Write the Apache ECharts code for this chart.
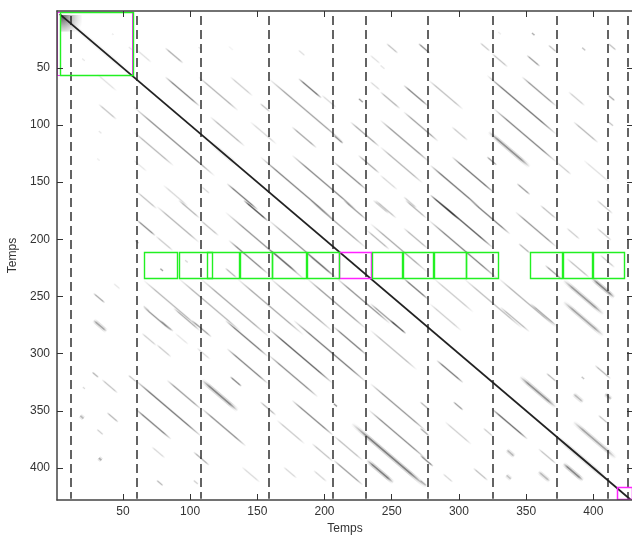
<!DOCTYPE html>
<html>
<head>
<meta charset="utf-8">
<style>html,body{margin:0;padding:0;background:#fff}#c{width:632px;height:538px}</style>
<script src="https://cdn.jsdelivr.net/npm/echarts@6/dist/echarts.min.js"></script>
</head>
<body>
<div id="c"></div>
<script>
// Tick labels
const xTicks = [50,100,150,200,250,300,350,400];
const yTicks = [50,100,150,200,250,300,350,400];
const axisName = 'Temps';

// Segment boundaries (dashed verticals), in time units
const boundaries = [11.6,60.2,107.9,158.7,206.3,231,277,325.4,373,411.1,425.6];

// Detected boxes: [x0, x1, y0, y1]
const greenBoxes = [
  [3.2,57.7,1.4,56.5],
  [65.9,90.5,210.8,234.1],[92,116.3,210.8,234.1],[112.8,136.6,210.8,234.1],
  [137.4,161.2,210.8,234.1],[161.2,186,210.8,234.1],[186.8,210.6,210.8,234.1],
  [235.1,257.9,210.8,234.1],[258.6,281,210.8,234.1],[281.7,305.1,210.8,234.1],
  [305.1,329.3,210.8,234.1],[353.1,376.5,210.8,234.1],[377.2,398.8,210.8,234.1],
  [400,422.6,210.8,234.1]
];
const magentaCornerBox = [[1,56.5,1.4,56.5]];
const magentaBoxes = [
  [210.6,234.8,210.8,234.1],
  [417.6,429,416.4,427.5]
];

// Main diagonal: [start, end]
const diagonal = [[3,428]];
// Bright corner of the matrix: [x0, x1, y0, y1]
const corner = [[3.2,19.4,3.7,18.3]];

// Repetition streaks: [x, y, length, darkness]
const streaks = [
  [41.7,19.8,1.5,.08],[54,31.4,3,.1],[19.4,41.6,2.5,.1],[60.3,34.3,11,.12],[81.3,32.4,13.6,.32],
  [30.5,55.3,15,.12],[31.8,81.6,13.6,.22],[31.8,105,2.5,.1],[30.5,129,2.5,.07],
  [106,31.5,2.5,.1],[128.5,31,3.7,.05],[180.5,34.4,5,.12],[233.9,38.8,7.5,.12],
  [81.3,57.7,26,.55],[106,57.7,29.8,.3],[129.7,57.7,17,.2],[158.2,59.2,56,.4],[180.5,59.2,17.4,.6],
  [197.9,73.8,11,.15],[233.9,62,7.5,.15],[225.2,76.7,3.7,.45],
  [57.8,84,60.8,.45],[114.8,92.7,26,.3],[144.6,97,20,.15],[152,81,7.5,.25],[175.6,101.5,18.6,.35],
  [206.6,108.8,7.4,.5],[219,97,22,.35],[57.8,105.8,30,.3],[152,127.7,55,.55],[175.6,126.2,48,.5],
  [206.6,132,25,.5],[225,126.3,16,.35],[57.8,130.6,10,.1],[80,152.5,18.6,.15],[108.6,154,6,.15],
  [60.3,158.3,15,.25],[127.2,151,23.5,.6],
  [246,28.6,8.7,.25],[269.8,28.6,8.7,.5],[315.7,28,7.5,.2],[324.4,37.3,12,.25],[350.4,38.8,10,.4],
  [329,18.4,2.5,.08],[354,19.2,2.5,.35],[366.5,30,6,.25],[391.3,32,3,.25],[411,28.6,6,.25],
  [241.3,47.5,3.7,.1],[258.7,65,18.6,.5],[241.3,70.8,15,.3],[277.3,60.6,26,.25],[320.7,56.3,52,.6],
  [346.7,57.7,26,.45],[381.4,70.8,12.4,.2],[411,73.8,5,.35],
  [241.3,95.6,37,.4],[258.7,88.3,26,.4],[294.6,101.5,12,.2],[325.6,85.4,47,.55],[372.6,132.4,11,.2],
  [385.1,97,18.6,.3],[411,97,4,.25],[241.3,119,32,.3],[278.5,135,37,.6],[294.6,127.7,32,.6],
  [320.7,127.7,7.5,.4],[343,151,10,.4],[392.6,130.6,20,.12],[241.3,143.7,13,.15],[258.7,162.7,10,.2],
  [278.5,161,22,.8],
  [75,171,32,.3],[60.3,183,14,.5],[74.3,197,13,.2],[107.4,183,14,.25],[91.3,165.6,16,.3],
  [126,176,60,.45],[139.6,165.6,18.6,.75],[158.2,183,52,.45],[189,165.6,42,.35],[214,165.6,17,.4],
  [236,165.6,12,.2],[231.4,192,17,.3],[128.5,200.6,30,.5],[77.6,225.4,2.5,.4],[96,218,2.5,.15],
  [126,225,8.7,.3],[159.5,209,20,.4],[186.7,212,20,.4],
  [65.2,235.6,42,.3],[91.3,234,47,.3],[107.4,234,52,.35],[134.7,234,50,.35],[159.5,234,47,.35],
  [186.7,234,45,.4],[209,234,40,.45],[65.2,259,21,.45],[87.5,260,20,.35],
  [77.6,270.6,10,.3],[101,270.6,15,.4],[126,270.6,32,.6],[158.2,278,48,.7],[176.8,270.6,55,.6],
  [206.6,276.4,25,.55],[248.7,270.6,12,.7],[64,282,11,.2],[75,292,11,.2],[88.8,282,10,.1],[105,295,10,.15],
  [127.2,295.4,31,.55],[158.2,301,37,.5],[233.9,279.3,35,.25],
  [59,323,50,.6],[59,348,27,.55],[82.6,323,26,.4],[108.6,348,33,.45],[129.7,320,8.7,.5],
  [152,342,12,.3],[175.6,340.6,31,.5],[206.6,371.6,22,.25],[206.6,343.5,3,.5],[164.4,358,21,.2],
  [190.5,378.5,16,.25],[206.6,393,22,.4],[169.4,399,10,.15],[191.7,402,10,.15],[138.4,399,13.6,.15],
  [71.4,381.4,10,.15],[75,410.6,5,.3],[102.4,385.8,12,.3],[102.4,410.6,3.7,.2],
  [233.9,326,42,.45],[232.6,349,43.4,.5],
  [283.3,305.6,20,.6],[365,317,7.5,.3],[295.7,342,7.5,.4],[324.2,348,27,.65],[270.9,342,7.5,.3],
  [401,310,12,.3],[391,320,2.5,.25],[403.6,353.7,7.5,.25],[271,365,7,.35],[289.5,359.5,20,.2],
  [318,365,7.5,.2],[271,388.7,10,.5],[271,410.6,5,.3],[359,383,13.6,.25],[310.6,400,11,.25],[288,405,7.5,.15],
  [237.6,165.6,16,.25],[260,165.6,16,.3],[283.5,165.6,42,.7],[308.3,165.6,30,.55],[233.9,186,43,.35],
  [258.7,190,18.6,.3],[277.3,183,52,.55],[341.8,175.8,31,.45],[360.4,170,12,.25],[402.5,165.6,12,.2],
  [380,190,10,.2],[402.5,190,11,.2],[344.3,203.5,8.7,.3],[364,222.5,13,.4],[380.2,216.6,17,.25],[405,213.7,11,.2],
  [329.4,234,43,.3],[303.3,234,44,.25],[281,234,30,.2],[258.7,234,18.6,.55],[278,256,24,.2],
  [233.9,256,22,.4],[330.6,259,22,.3],[353,256,20,.35],
  [28,247,8.7,.35],[43,238.5,5,.1],[27,316,5,.3],[34.2,322.5,12,.25],[20,329,2,.15],[38,351.4,8.7,.3],
  [30.5,366,5,.2],[54,318.7,6,.25],[59,200.6,3,.25],[65,258,5,.15]
];
// Wider, blurred streaks: [x, y, length, darkness]
const broadStreaks = [
  [28,270.6,10,.4],[18,354,3,.3],[31.8,391,2.5,.35],
  [108.6,323,27,.55],[220.2,361,56,.6],[231.4,393,20,.6],
  [345.3,320,27,.5],[385,335,7.5,.3],[408.5,335,5,.3],[385,359.5,32,.4],[335.4,384,6,.3],
  [377.5,396,15,.55],[359,403,8.7,.3],[335,406,4,.25],[321.9,105.8,31,.5],
  [377.7,235.6,30,.45],[398.8,234,17,.55],[377.7,254.5,30,.4],
  [372,372,38,.35],[3,3,53,.15],[115,115,20,.2]
];

const chart = echarts.init(document.getElementById('c'), null, {renderer:'canvas'});

const fadeStroke = (a, b, dark) => new echarts.graphic.LinearGradient(
  a[0], a[1], b[0], b[1],
  [
    {offset:0, color:'rgba(30,30,30,0)'},
    {offset:.22, color:`rgba(30,30,30,${dark})`},
    {offset:.78, color:`rgba(30,30,30,${dark})`},
    {offset:1, color:'rgba(30,30,30,0)'}
  ], true);

const streakRender = (coreW, haloW, coreK, haloK) => (params, api) => {
  const x = api.value(0), y = api.value(1), len = api.value(2), dark = api.value(3);
  const a = api.coord([x, y]), b = api.coord([x + len, y + len]);
  const shape = {x1:a[0], y1:a[1], x2:b[0], y2:b[1]};
  return {type:'group', children:[
    {type:'line', shape, style:{stroke:fadeStroke(a,b,dark*haloK), lineWidth:haloW, fill:null}},
    {type:'line', shape, style:{stroke:fadeStroke(a,b,dark*coreK), lineWidth:coreW, fill:null}}
  ]};
};

const boxRender = (color, width) => (params, api) => {
  const a = api.coord([api.value(0), api.value(2)]);
  const b = api.coord([api.value(1), api.value(3)]);
  const x0 = Math.round(a[0])+.5, y0 = Math.round(a[1])+.5;
  const x1 = Math.round(b[0])+.5, y1 = Math.round(b[1])+.5;
  return {type:'rect', shape:{x:x0, y:y0, width:x1-x0, height:y1-y0},
    style:{fill:null, stroke:color, lineWidth:width}};
};

const base = {type:'custom', coordinateSystem:'cartesian2d', silent:true, animation:false, clip:true,
  xAxisIndex:0, yAxisIndex:0};
const axisLine = {show:true, onZero:false, lineStyle:{color:'#444', width:1.5}};

const xAxisOf = (position, showLabel) => ({
  type:'value', position, min:0.97, max:429.5, z:10,
  axisLine, splitLine:{show:false},
  axisTick:{show:true, inside:true, length:6, lineStyle:{color:'#333', width:1}, customValues:xTicks},
  axisLabel:{show:showLabel, customValues:xTicks, color:'#333', fontFamily:'Liberation Sans', fontSize:12, margin:6},
  ...(showLabel ? {name:axisName, nameLocation:'middle', nameGap:23,
    nameTextStyle:{color:'#333', fontFamily:'Liberation Sans', fontSize:12}} : {})
});
const yAxisOf = (position, showLabel) => ({
  type:'value', position, min:0.26, max:428, inverse:true, z:10,
  axisLine: showLabel ? axisLine : {show:false}, splitLine:{show:false},
  axisTick:{show:true, inside:true, length:6, lineStyle:{color:'#333', width:1}, customValues:yTicks},
  axisLabel:{show:showLabel, customValues:yTicks, color:'#333', fontFamily:'Liberation Sans', fontSize:12, margin:7},
  ...(showLabel ? {name:axisName, nameLocation:'middle', nameGap:31, nameRotate:90,
    nameTextStyle:{color:'#333', fontFamily:'Liberation Sans', fontSize:12}} : {})
});

chart.setOption({
  animation:false,
  backgroundColor:'#fff',
  grid:{left:57, top:11, width:576, height:489, containLabel:false, outerBoundsMode:'none'},
  xAxis:[xAxisOf('bottom', true), xAxisOf('top', false)],
  yAxis:[yAxisOf('left', true), yAxisOf('right', false)],
  series:[
    {...base, data:corner, encode:{x:0,y:2}, renderItem:(p, api) => {
      const a = api.coord([api.value(0), api.value(2)]);
      const b = api.coord([api.value(1), api.value(3)]);
      return {type:'rect', shape:{x:a[0], y:a[1], width:b[0]-a[0], height:b[1]-a[1]},
        style:{fill:new echarts.graphic.RadialGradient(a[0]+2, a[1]+2, Math.max(b[0]-a[0], b[1]-a[1]), [
          {offset:0, color:'rgba(40,40,40,.75)'},{offset:.5, color:'rgba(90,90,90,.35)'},{offset:1, color:'rgba(160,160,160,0)'}
        ], true)}};
    }},
    {...base, data:broadStreaks, encode:{x:0,y:1}, renderItem:streakRender(1.6, 4.5, .8, .3)},
    {...base, data:streaks, encode:{x:0,y:1}, renderItem:streakRender(1.1, 2.2, .85, .25)},
    {...base, data:diagonal, encode:{x:0,y:1}, renderItem:(p, api) => {
      const a = api.coord([api.value(0), api.value(0)]);
      const b = api.coord([api.value(1), api.value(1)]);
      return {type:'line', shape:{x1:a[0], y1:a[1], x2:b[0], y2:b[1]},
        style:{stroke:'#222', lineWidth:1.8, fill:null}};
    }},
    {...base, data:boundaries.map(v => [v]), encode:{x:0}, renderItem:(p, api) => {
      const v = api.value(0);
      const a = api.coord([v, 4.6]), b = api.coord([v, 427]);
      const px = Math.round(a[0]);
      return {type:'line', shape:{x1:px, y1:a[1], x2:px, y2:b[1]},
        style:{stroke:'#222', lineWidth:1.4, lineDash:[9,5], fill:null}};
    }},
    {...base, data:magentaCornerBox, encode:{x:0,y:2}, renderItem:boxRender('#ff22ff', 1)},
    {...base, data:magentaBoxes, encode:{x:0,y:2}, renderItem:boxRender('#ff22ff', 1.5)},
    {...base, data:greenBoxes, encode:{x:0,y:2}, renderItem:boxRender('#22f022', 1.4)}
  ]
});
</script>
</body>
</html>
